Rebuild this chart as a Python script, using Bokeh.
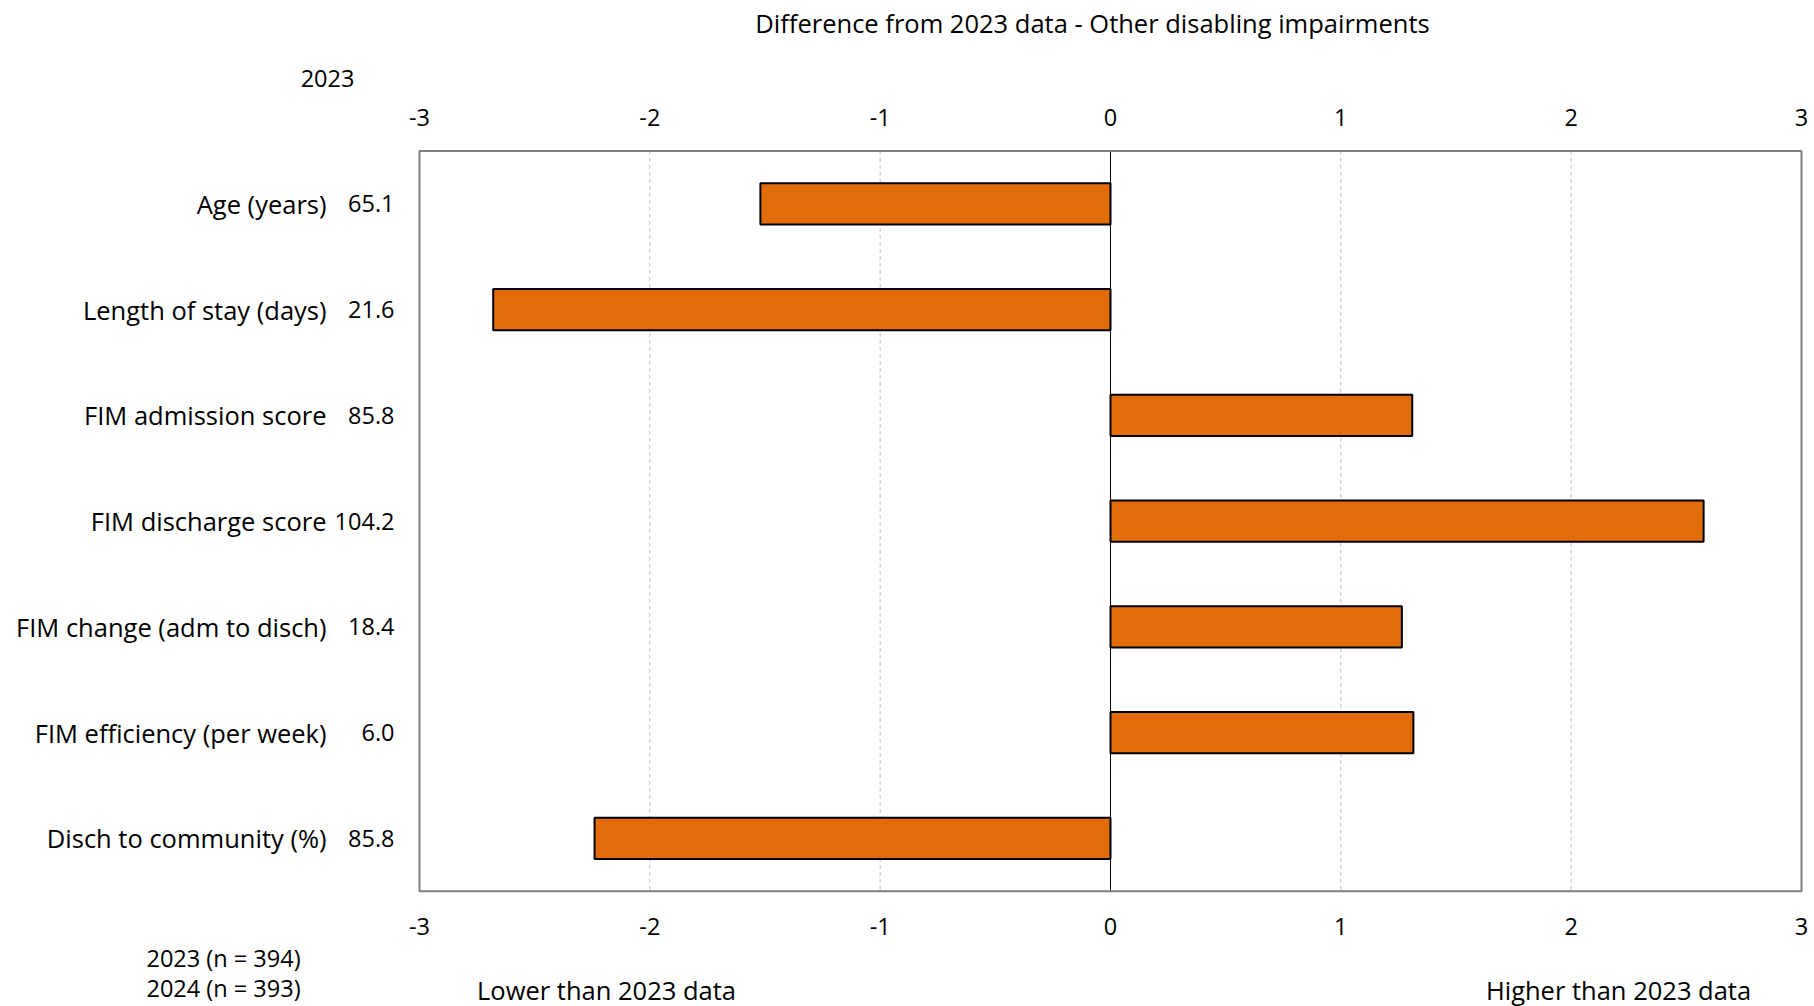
import numpy as np
from bokeh.plotting import figure
from bokeh.models import ColumnDataSource, Range1d
from bokeh.core.properties import value
from bokeh.embed import file_html
from bokeh.resources import INLINE

categories = ["Age (years)", "Length of stay (days)", "FIM admission score", "FIM discharge score",
              "FIM change (adm to disch)", "FIM efficiency (per week)", "Disch to community (%)"]
values_2023 = ["65.1", "21.6", "85.8", "104.2", "18.4", "6.0", "85.8"]
differences = [-1.52, -2.68, 1.31, 2.575, 1.265, 1.315, -2.24]
x_ticks = [-3, -2, -1, 0, 1, 2, 3]
title_text = "Difference from 2023 data - Other disabling impairments"
n_labels = ["2023 (n = 394)", "2024 (n = 393)"]

# canvas / frame geometry (pixels)
W, H = 1814, 1006
FL, FR, FT, FB = 419.0, 1801.0, 150.4, 890.8
XMIN, XMAX = x_ticks[0], x_ticks[-1]
NROW = len(categories)
ppx = (FR - FL) / (XMAX - XMIN)
ppy = (FB - FT) / NROW

def X(px):
    return XMIN + (px - FL) / ppx

def Y(py):
    return (py - FT) / ppy

FONT = value("Open Sans")
FS_W = value("25.5px")   # word labels
FS_N = value("23.5px")   # numeric labels

p = figure(width=W, height=H, output_backend="svg", toolbar_location=None,
           x_range=Range1d(X(0), X(W)), y_range=Range1d(Y(H), Y(0)),
           min_border=0, x_axis_location=None, y_axis_location=None)
p.outline_line_color = None
p.grid.visible = False
p.background_fill_color = "white"
p.border_fill_color = "white"

rows = np.arange(NROW) + 0.5
src = ColumnDataSource(dict(y=rows, cat=categories, val=values_2023, diff=differences))

# grid
p.segment(x0=x_ticks, x1=x_ticks, y0=0, y1=NROW, line_color="#BFBFBF", line_width=1, line_dash="4 3")
p.segment(x0=[0], x1=[0], y0=[0], y1=[NROW], line_color="black", line_width=1)
# bars
p.hbar(y="y", left=0, right="diff", height=0.39, source=src,
       fill_color="#E36C0A", line_color="black", line_width=2)
# frame
p.quad(left=[XMIN], right=[XMAX], top=[0], bottom=[NROW], fill_color=None,
       line_color="#808080", line_width=2)

tick_txt = [str(t) for t in x_ticks]
p.text(x=x_ticks, y=Y(117), text=tick_txt, text_align="center", text_baseline="middle",
       text_font=FONT, text_font_size=FS_N, text_color="black")
p.text(x=x_ticks, y=Y(925.5), text=tick_txt, text_align="center", text_baseline="middle",
       text_font=FONT, text_font_size=FS_N, text_color="black")

p.text(x=X(326), y="y", text="cat", source=src, text_align="right", text_baseline="middle",
       text_font=FONT, text_font_size=FS_W, text_color="black")
p.text(x=X(394), y="y", text="val", source=src, text_align="right", text_baseline="middle",
       text_font=FONT, text_font_size=FS_N, text_color="black")

def lab(t, px, py, align="center", fs=FS_W):
    p.text(x=[X(px)], y=[Y(py)], text=[t], text_align=align, text_baseline="middle",
           text_font=FONT, text_font_size=fs, text_color="black")

lab(title_text, 1092, 22)
lab("2023", 327, 77.5, fs=FS_N)
lab(n_labels[0], 146, 957, "left", FS_N)
lab(n_labels[1], 146, 987, "left", FS_N)
lab("Lower than 2023 data", 606, 989)
lab("Higher than 2023 data", 1618, 989)

open("out.html", "w").write(file_html(p, INLINE))
